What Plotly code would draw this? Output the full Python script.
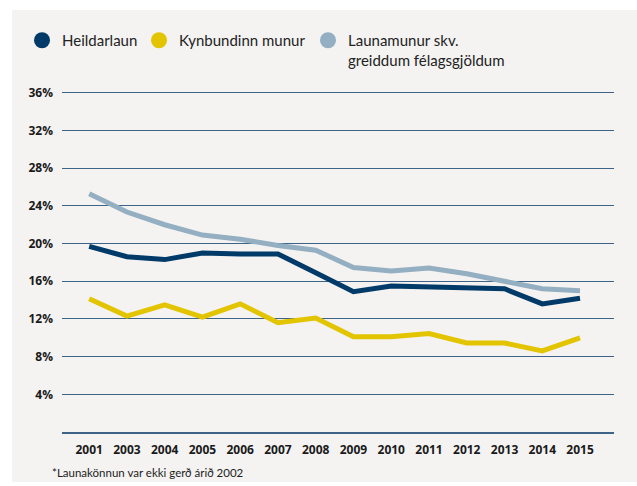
import plotly.graph_objects as go

years = ["2001", "2003", "2004", "2005", "2006", "2007", "2008",
         "2009", "2010", "2011", "2012", "2013", "2014", "2015"]
heildarlaun = [19.7, 18.6, 18.3, 19.0, 18.9, 18.9, 16.9, 14.9, 15.5, 15.4, 15.2, 15.2, 13.6, 14.2]
kynbundinn = [14.15, 12.3, 13.5, 12.2, 13.6, 11.6, 12.1, 10.1, 10.1, 10.45, 9.45, 9.45, 8.6, 10.0]
launamunur = [25.3, 23.35, 22.0, 20.9, 20.45, 19.8, 19.3, 17.45, 17.1, 17.4, 16.8, 16.0, 15.2, 15.0]
ytick_vals = [4, 8, 12, 16, 20, 24, 28, 32, 36]
ytick_text = [f"{v}%" for v in ytick_vals]

names = ["Heildarlaun", "Kynbundinn munur", "Launamunur skv.<br>greiddum félagsgjöldum"]
colors = ["#003a68", "#e3c400", "#93afc1"]
series = [heildarlaun, kynbundinn, launamunur]

fig = go.Figure()
for i in [2, 1, 0]:
    fig.add_trace(go.Scatter(x=years, y=series[i], mode="lines",
                             line=dict(color=colors[i], width=5),
                             showlegend=False, hoverinfo="skip"))
legend_ids = ["legend", "legend2", "legend3"]
for i in range(3):
    fig.add_trace(go.Scatter(x=[None], y=[None], mode="markers", name=names[i],
                             marker=dict(color=colors[i], size=16),
                             legend=legend_ids[i], showlegend=True))

W, H = 637, 486
PL, PR, PT, PB = 62, 614, 74, 432  # plot area in pixels


def px(x):
    return x / W


def py(y):
    return 1 - y / H


legfont = dict(family="Lato", size=15, color="#222222")
common = dict(bgcolor="rgba(0,0,0,0)", borderwidth=0, font=legfont,
              xanchor="left", yanchor="top", itemclick=False)

fig.update_layout(
    width=W, height=H,
    margin=dict(l=0, r=0, t=0, b=0),
    paper_bgcolor="white",
    plot_bgcolor="rgba(0,0,0,0)",
    legend=dict(x=px(22), y=py(24), **common),
    legend2=dict(x=px(139), y=py(24), **common),
    legend3=dict(x=px(308), y=py(24), valign="top", **common),
    xaxis=dict(type="category", range=[-0.72, 13.9], domain=[px(PL), px(PR)],
               showgrid=False, automargin=False,
               showline=True, linecolor="#3d6488", linewidth=1.5,
               ticks="", ticklabelstandoff=6,
               tickfont=dict(family="Open Sans", size=12, color="#1a1a1a", weight="bold"),
               fixedrange=True),
    yaxis=dict(range=[0, 38], domain=[py(PB), py(PT)], automargin=False,
               tickvals=ytick_vals, ticktext=ytick_text,
               showgrid=True, gridcolor="#3d6488", gridwidth=1.3,
               zeroline=False, showline=False, ticks="", ticklabelstandoff=8,
               tickfont=dict(family="Open Sans", size=12, color="#1a1a1a", weight="bold"),
               fixedrange=True),
    shapes=[dict(type="rect", xref="paper", yref="paper",
                 x0=px(12), x1=px(637), y0=py(482), y1=py(10),
                 fillcolor="#f4f3f2", line=dict(width=0), layer="below")],
    annotations=[dict(text="*Launakönnun var ekki gerð árið 2002",
                      xref="paper", yref="paper", x=px(50), y=py(472),
                      xanchor="left", yanchor="middle", showarrow=False,
                      font=dict(family="Lato", size=11.5, color="#222222"))],
    showlegend=True,
)

fig.write_html("out.html", config={"displayModeBar": False},
               post_script="document.body.style.margin='0px';document.body.style.overflow='hidden';")
